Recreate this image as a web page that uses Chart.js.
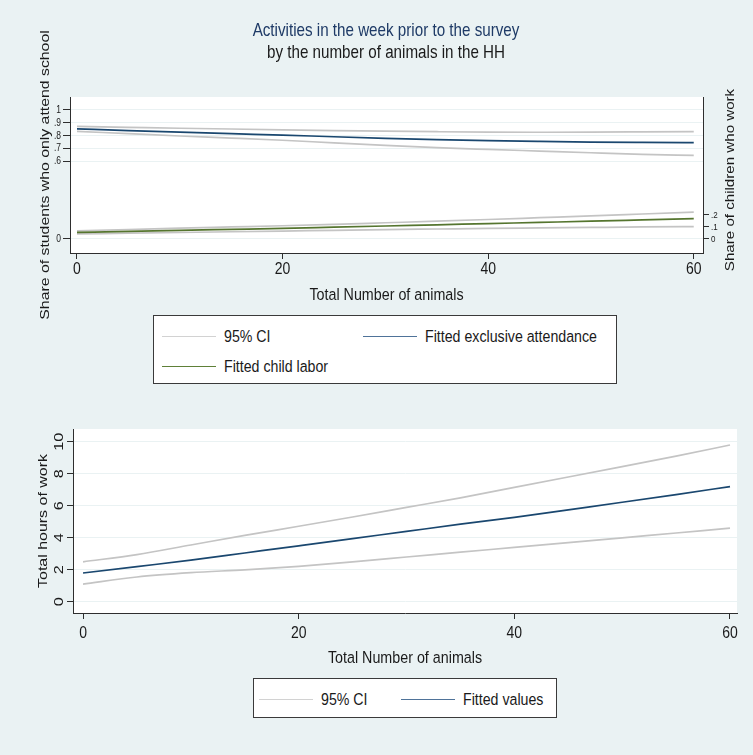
<!DOCTYPE html>
<html><head><meta charset="utf-8">
<script src="https://cdn.jsdelivr.net/npm/chart.js@4.4.1/dist/chart.umd.min.js"></script>
<style>
html,body{margin:0;padding:0;background:#eaf2f3;}
#wrap{position:relative;width:753px;height:755px;background:#eaf2f3;overflow:hidden;}
canvas{position:absolute;left:0;}
.legend{position:absolute;background:#fff;border:1px solid #3a3a3a;box-sizing:border-box;font-family:'Liberation Sans',Arial,sans-serif;font-size:14.2px;color:#1a1a1a;}
.item{position:absolute;display:flex;align-items:center;white-space:nowrap;height:20px;line-height:20px;}
.item .sw{display:inline-block;width:54px;height:0;border-top:1.8px solid;margin-right:8px;}
.item .tx{display:inline-block;transform:scaleY(1.2);transform-origin:50% 50%;}
</style></head><body>
<div id="wrap">
<canvas id="c1" width="753" height="400" style="top:0"></canvas>
<canvas id="c2" width="753" height="355" style="top:400px"></canvas>
<div id="leg1" class="legend" style="left:153px;top:315px;width:464px;height:69px;"></div>
<div id="leg2" class="legend" style="left:253px;top:678px;width:304px;height:40px;"></div>
</div>
<script>
// ---------- data ----------
const animals    = [0, 5, 10, 15, 20, 25, 30, 35, 40, 45, 50, 55, 60];
const attendFit  = [0.853, 0.840, 0.828, 0.816, 0.805, 0.792, 0.780, 0.770, 0.762, 0.756, 0.751, 0.748, 0.746];
const attendHi   = [0.872, 0.865, 0.858, 0.852, 0.846, 0.840, 0.835, 0.831, 0.828, 0.827, 0.828, 0.830, 0.832];
const attendLo   = [0.834, 0.816, 0.798, 0.782, 0.765, 0.745, 0.726, 0.708, 0.694, 0.681, 0.668, 0.656, 0.648];
const laborFit   = [0.055, 0.063, 0.072, 0.080, 0.088, 0.098, 0.108, 0.118, 0.128, 0.138, 0.148, 0.159, 0.170];
const laborHi    = [0.068, 0.079, 0.090, 0.100, 0.110, 0.122, 0.135, 0.148, 0.162, 0.177, 0.192, 0.208, 0.224];
const laborLo    = [0.042, 0.048, 0.054, 0.060, 0.066, 0.072, 0.078, 0.083, 0.088, 0.092, 0.096, 0.100, 0.103];
const hoursFit   = [1.80, 2.20, 2.60, 3.05, 3.50, 3.95, 4.40, 4.85, 5.28, 5.75, 6.22, 6.70, 7.20];
const hoursHi    = [2.50, 2.95, 3.55, 4.15, 4.72, 5.30, 5.90, 6.50, 7.15, 7.80, 8.45, 9.10, 9.80];
const hoursLo    = [1.10, 1.55, 1.82, 2.00, 2.22, 2.50, 2.80, 3.10, 3.40, 3.70, 4.00, 4.30, 4.60];
const xTicks     = [0, 20, 40, 60];
const shareTicks = [0, 0.6, 0.7, 0.8, 0.9, 1];
const shareTickLabels = ['0', '.6', '.7', '.8', '.9', '1'];
const laborTicks = [0, 0.1, 0.2];
const laborTickLabels = ['0', '.1', '.2'];
const hoursTicks = [0, 2, 4, 6, 8, 10];

// ---------- styles ----------
const NAVY = '#1a476f', GREEN = '#55752f', CI = '#c4c4c4', AX = '#2e2e2e', GRID = '#eaf2f3', BG = '#eaf2f3';
const FONT = "'Liberation Sans',Arial,sans-serif";
const STRETCH = 1.2;   // text in the reference is drawn taller than wide
Chart.defaults.font.family = FONT;
Chart.defaults.color = '#1a1a1a';

// stretch every text vertically (in device space) around its anchor point
function stretchText(canvas, k) {
  const ctx = canvas.getContext('2d');
  const orig = ctx.fillText;
  ctx.fillText = function (text, x, y, maxWidth) {
    const m = this.getTransform();
    const py = m.b * x + m.d * y + m.f;
    this.save();
    this.setTransform(1, 0, 0, k, 0, py * (1 - k));
    this.transform(m.a, m.b, m.c, m.d, m.e, m.f);
    if (maxWidth === undefined || maxWidth === null) orig.call(this, text, x, y);
    else orig.call(this, text, x, y, maxWidth);
    this.restore();
  };
  return canvas;
}

const pts = (ys) => animals.map((x, i) => ({x, y: ys[i]}));
const setTicks = (arr) => (s) => { s.ticks = arr.map(v => ({value: v})); };
const labelFrom = (vals, labels) => (v) => { const i = vals.findIndex(t => Math.abs(t - v) < 1e-9); return i >= 0 ? labels[i] : ''; };

const plotBg = {
  id: 'plotBg',
  beforeDraw(chart) {
    const {ctx, chartArea: a} = chart;
    ctx.save();
    ctx.fillStyle = BG; ctx.fillRect(0, 0, chart.width, chart.height);
    ctx.fillStyle = '#ffffff'; ctx.fillRect(a.left, a.top, a.right - a.left, a.bottom - a.top);
    ctx.restore();
  }
};

function ds(label, ys, color, axis, order) {
  return {label, data: pts(ys), borderColor: color, backgroundColor: color, yAxisID: axis, order,
          borderWidth: 1.7, pointRadius: 0, fill: false, cubicInterpolationMode: 'monotone'};
}

// ---------- chart 1 ----------
const texts1 = {
  id: 'texts1',
  afterDraw(chart) {
    const {ctx} = chart;
    ctx.save();
    ctx.textAlign = 'center'; ctx.textBaseline = 'middle';
    ctx.font = '15.2px ' + FONT;
    ctx.fillStyle = '#1e3a66';
    ctx.fillText('Activities in the week prior to the survey', 386, 31);
    ctx.fillStyle = '#1a1a1a';
    ctx.fillText('by the number of animals in the HH', 386, 53);
    ctx.translate(731, 180);
    ctx.rotate(-Math.PI / 2);
    ctx.font = '12.6px ' + FONT;
    ctx.fillText('Share of children who work', 0, 0);
    ctx.restore();
  }
};

new Chart(stretchText(document.getElementById('c1'), STRETCH), {
  type: 'line',
  data: {datasets: [
    ds('Fitted exclusive attendance', attendFit, NAVY, 'y', 0),
    ds('Fitted child labor', laborFit, GREEN, 'y2', 0),
    ds('95% CI', attendHi, CI, 'y', 1),
    ds('95% CI', attendLo, CI, 'y', 1),
    ds('95% CI', laborHi, CI, 'y2', 1),
    ds('95% CI', laborLo, CI, 'y2', 1)
  ]},
  options: {
    responsive: false, animation: false, events: [],
    layout: {padding: {top: 97, left: 37, right: 16, bottom: 96}},
    plugins: {legend: {display: false}, title: {display: false}, tooltip: {enabled: false}},
    scales: {
      x: {type: 'linear', min: -0.68, max: 60.9,
          afterBuildTicks: setTicks(xTicks), afterFit: (s) => { s.height = 51; },
          grid: {drawOnChartArea: false, tickLength: 6, tickColor: AX},
          border: {color: AX, width: 1},
          ticks: {font: {size: 14}, color: '#1a1a1a', padding: 2, maxRotation: 0},
          title: {display: true, text: 'Total Number of animals', font: {size: 14.3}, color: '#1a1a1a', padding: 0}},
      y: {position: 'left', min: -0.1085, max: 1.1,
          afterBuildTicks: setTicks(shareTicks), afterFit: (s) => { s.width = 33; },
          grid: {color: GRID, tickColor: AX, tickLength: 7},
          border: {color: AX, width: 1},
          ticks: {font: {size: 8.5}, color: '#1a1a1a', padding: 2, callback: labelFrom(shareTicks, shareTickLabels)},
          title: {display: true, text: 'Share of students who only attend school', font: {size: 13.2}, color: '#1a1a1a', padding: 0}},
      y2: {position: 'right', min: -0.117, max: 1.183,
          afterBuildTicks: setTicks(laborTicks), afterFit: (s) => { s.width = 34; },
          grid: {drawOnChartArea: false, tickColor: AX, tickLength: 6},
          border: {color: AX, width: 1},
          ticks: {font: {size: 8}, color: '#1a1a1a', padding: 2, callback: labelFrom(laborTicks, laborTickLabels)}}
    }
  },
  plugins: [plotBg, texts1]
});

// ---------- chart 2 ----------
new Chart(stretchText(document.getElementById('c2'), STRETCH), {
  type: 'line',
  data: {datasets: [
    ds('Fitted values', hoursFit, NAVY, 'y', 0),
    ds('95% CI', hoursHi, CI, 'y', 1),
    ds('95% CI', hoursLo, CI, 'y', 1)
  ]},
  options: {
    responsive: false, animation: false, events: [],
    layout: {padding: {top: 29, left: 35, right: 16, bottom: 88}},
    plugins: {legend: {display: false}, title: {display: false}, tooltip: {enabled: false}},
    scales: {
      x: {type: 'linear', min: -0.93, max: 60.65,
          afterBuildTicks: setTicks(xTicks), afterFit: (s) => { s.height = 54; },
          grid: {drawOnChartArea: false, tickLength: 6, tickColor: AX},
          border: {color: AX, width: 1},
          ticks: {font: {size: 14}, color: '#1a1a1a', padding: 6, maxRotation: 0},
          title: {display: true, text: 'Total Number of animals', font: {size: 14.3}, color: '#1a1a1a', padding: 0}},
      y: {position: 'left', min: -0.7, max: 10.8,
          afterBuildTicks: setTicks(hoursTicks), afterFit: (s) => { s.width = 38; },
          grid: {color: GRID, tickColor: AX, tickLength: 6},
          border: {color: AX, width: 1},
          ticks: {font: {size: 13.5}, color: '#1a1a1a', padding: 0, minRotation: 90, maxRotation: 90, crossAlign: 'center'},
          title: {display: true, text: 'Total hours of work', font: {size: 13.3}, color: '#1a1a1a', padding: 0}}
    }
  },
  plugins: [plotBg]
});

// ---------- legends ----------
function buildLegend(el, entries) {
  entries.forEach(e => {
    const d = document.createElement('div');
    d.className = 'item';
    d.style.left = e.left + 'px'; d.style.top = (e.top - 10) + 'px';
    const sw = document.createElement('span'); sw.className = 'sw'; sw.style.borderTopColor = e.color;
    const t = document.createElement('span'); t.className = 'tx'; t.textContent = e.label;
    d.appendChild(sw); d.appendChild(t); el.appendChild(d);
  });
}
buildLegend(document.getElementById('leg1'), [
  {label: '95% CI', color: '#d2d2d2', left: 8, top: 20},
  {label: 'Fitted exclusive attendance', color: '#4f7399', left: 209, top: 20},
  {label: 'Fitted child labor', color: '#5f8038', left: 8, top: 50}
]);
buildLegend(document.getElementById('leg2'), [
  {label: '95% CI', color: '#d2d2d2', left: 5, top: 20},
  {label: 'Fitted values', color: '#4f7399', left: 147, top: 20}
]);
</script>
</body></html>
